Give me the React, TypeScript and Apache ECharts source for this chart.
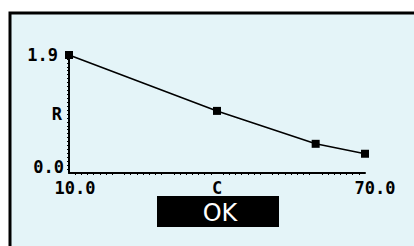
import React, { useEffect, useRef } from "react";
import * as echarts from "echarts";

const xValues = [10, 40, 60, 70];
const rValues = [1.9, 1.0, 0.47, 0.31];
const xTickLabels = ["10.0", "70.0"];
const yTickLabels = ["0.0", "1.9"];
const xName = "C";
const yName = "R";
const buttonText = "OK";

const FONT = "DejaVu Sans Mono";

export default function App() {
  const ref = useRef<HTMLDivElement>(null);
  useEffect(() => {
    const chart = echarts.init(ref.current!, null, { renderer: "svg" });
    chart.setOption({
      animation: false,
      backgroundColor: "#ffffff",
      graphic: [
        {
          type: "rect",
          z: -10,
          silent: true,
          shape: { x: 10, y: 13, width: 420, height: 250 },
          style: { fill: "#e4f4f8", stroke: "#000", lineWidth: 3 },
        },
        {
          type: "rect",
          shape: { x: 157, y: 196, width: 122, height: 31 },
          style: { fill: "#000" },
        },
        {
          type: "text",
          x: 220,
          y: 213,
          style: {
            text: buttonText,
            fill: "#fff",
            font: `normal 24px "DejaVu Sans"`,
            align: "center",
            verticalAlign: "middle",
          },
        },
      ],
      grid: { left: 69, right: 49, top: 55, bottom: 73 },
      xAxis: {
        type: "value",
        min: 10,
        max: 70,
        interval: 10,
        name: xName,
        nameLocation: "middle",
        nameGap: 6,
        nameMoveOverlap: false,
        nameTextStyle: {
          fontFamily: FONT,
          fontWeight: "bold",
          fontSize: 17,
          color: "#000",
          verticalAlign: "top",
        },
        axisLine: { lineStyle: { color: "#000", width: 2 } },
        axisTick: { show: false },
        minorTick: { show: true, splitNumber: 8, length: 2, lineStyle: { color: "#000", width: 1 } },
        splitLine: { show: false },
        axisLabel: {
          margin: 6,
          fontFamily: FONT,
          fontWeight: "bold",
          fontSize: 17,
          color: "#000",
          formatter: (v: number) =>
            v === 10 ? `{a|${xTickLabels[0]}}` : v === 70 ? `{b|${xTickLabels[1]}}` : "",
          rich: {
            a: { padding: [0, 0, 0, 12], fontFamily: FONT, fontWeight: "bold", fontSize: 17, color: "#000" },
            b: { padding: [0, 0, 0, 20], fontFamily: FONT, fontWeight: "bold", fontSize: 17, color: "#000" },
          },
        },
      },
      yAxis: {
        type: "value",
        min: 0,
        max: 1.9,
        interval: 1.9,
        name: yName,
        nameLocation: "middle",
        nameGap: 7,
        nameRotate: 0,
        nameMoveOverlap: false,
        nameTextStyle: {
          fontFamily: FONT,
          fontWeight: "bold",
          fontSize: 17,
          color: "#000",
          align: "right",
        },
        axisLine: { show: true, lineStyle: { color: "#000", width: 2 } },
        axisTick: { show: false },
        minorTick: { show: true, splitNumber: 30, length: 2, lineStyle: { color: "#000", width: 1 } },
        splitLine: { show: false },
        axisLabel: {
          margin: 5,
          fontFamily: FONT,
          fontWeight: "bold",
          fontSize: 17,
          color: "#000",
          formatter: (v: number) =>
            v === 0 ? `{z|${yTickLabels[0]}}\n{z| }` : `{t|${yTickLabels[1]}}`,
          rich: {
            z: { lineHeight: 12, fontFamily: FONT, fontWeight: "bold", fontSize: 17, color: "#000" },
            t: { padding: [0, 6, 0, 0], fontFamily: FONT, fontWeight: "bold", fontSize: 17, color: "#000" },
          },
        },
      },
      series: [
        {
          type: "line",
          data: xValues.map((x, i) => [x, rValues[i]]),
          symbol: "rect",
          symbolSize: 8,
          showSymbol: true,
          lineStyle: { color: "#000", width: 1.6 },
          itemStyle: { color: "#000" },
        },
      ],
    });
    return () => chart.dispose();
  }, []);
  return (
    <div
      ref={ref}
      style={{ position: "fixed", left: 0, top: 0, width: 414, height: 246 }}
    />
  );
}
